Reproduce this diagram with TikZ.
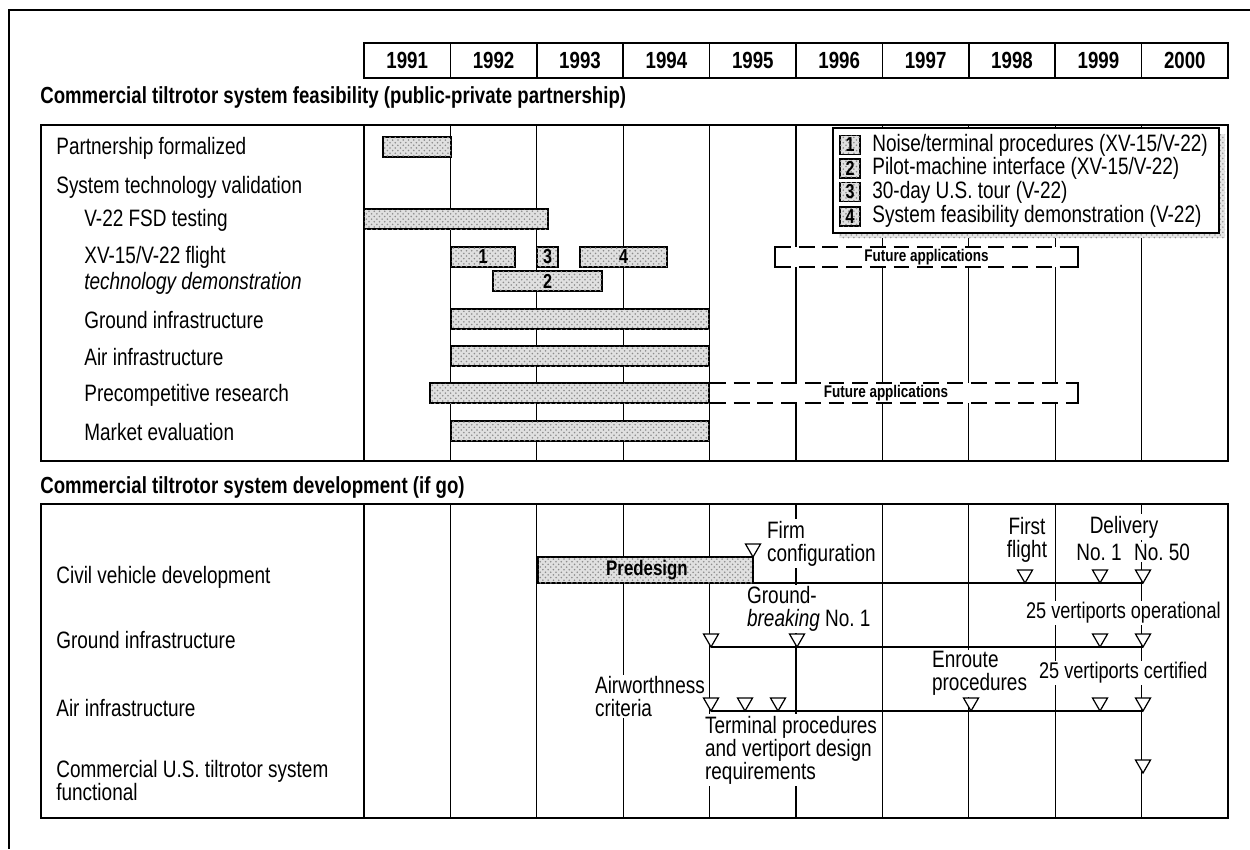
\documentclass[tikz,border=0pt]{standalone}
\usepackage{fontspec}
\setmainfont{Liberation Sans}[FakeStretch=0.8]
\usetikzlibrary{patterns,positioning,calc}
\newcommand{\lbl}{\fontsize{13.5}{13.1}\selectfont}
\tikzset{
  lab/.style={anchor=west,inner sep=0pt,font=\lbl},
  note/.style={anchor=west,align=left,inner sep=1pt,fill=white,font=\lbl},
  yr/.style={inner sep=0pt,font=\bfseries\fontsize{13.3}{14}\selectfont},
  ttl/.style={anchor=west,inner sep=0pt,font=\bfseries\fontsize{13.25}{14}\selectfont},
  num/.style={inner sep=0pt,font=\bfseries\fontsize{11.5}{12}\selectfont},
  fa/.style={inner sep=0pt,font=\bfseries\fontsize{9.6}{11}\selectfont},
  bar/.style={draw,line width=1pt,fill=black!12,
    postaction={pattern=crosshatch dots,pattern color=black!45}},
  fut/.style={dash pattern=on 9pt off 4.5pt,line width=0.9pt},
  grid/.style={line width=0.7pt},
  pane/.style={line width=1pt},
  mline/.style={line width=1.5pt},
  ms/.pic={\draw[line width=0.7pt,fill=white] (0,0) -- (-7.5,-13) -- (7.5,-13) -- cycle;},
}
\begin{document}
\begin{tikzpicture}[x=0.02cm,y=-0.02cm]
  \useasboundingbox (0,0) rectangle (1250,849);
  % open frame
  \draw[pane] (1250,10) -- (9,10) -- (9,849);
  % year header
  \foreach \yr [count=\i from 0] in {1991,...,2000} {
    \draw[pane] ({364+86.4*\i},43) rectangle ++(86.4,35);
    \node[yr] (y\yr) at ({407.2+86.4*\i},60.5) {\yr};
  }
  \node[ttl] (t1) at (40,97) {Commercial tiltrotor system feasibility (public-private partnership)};
  \node[ttl] (t2) at (40,488) {Commercial tiltrotor system development (if go)};

  % ---- feasibility panel
  \draw[pane] (41,125) rectangle (1228,461);
  \draw[pane] (364,125) -- (364,461);
  \foreach \i in {1,...,9} \draw[grid] ({364+86.4*\i},125) -- ++(0,336);
  \node[lab] (r1) at (56,148) {Partnership formalized};
  \node[lab] (r2) at (56,187) {System technology validation};
  \node[lab] (r3) at (84,220) {V-22 FSD testing};
  \node[lab] (r4) at (84,257) {XV-15/V-22 flight};
  \node[lab] (r5) at (84,283) {\itshape technology demonstration};
  \node[lab] (r6) at (84,320) {Ground infrastructure};
  \node[lab] (r7) at (84,357) {Air infrastructure};
  \node[lab] (r8) at (84,395) {Precompetitive research};
  \node[lab] (r9) at (84,432) {Market evaluation};
  \draw[bar] (383,137) rectangle (451,157);
  \draw[bar] (364,209) rectangle (548,229);
  \draw[bar] (451,247) rectangle (515,267); \node[num] (n1) at (483,257) {1};
  \draw[bar] (537,247) rectangle (558,267); \node[num] (n3) at (547.5,257) {3};
  \draw[bar] (580,247) rectangle (667,267); \node[num] (n4) at (623.5,257) {4};
  \draw[bar] (493,271) rectangle (602,291); \node[num] (n2) at (547.5,281) {2};
  \draw[bar] (451,309) rectangle (709,329);
  \draw[bar] (451,346) rectangle (709,366);
  \draw[bar] (430,383) rectangle (709,403);
  \draw[bar] (451,421) rectangle (709,441);
  % future applications
  \fill[white] (775,247) rectangle (1078,267);
  \draw[fut] (775,247) -- (1078,247) (775,267) -- (1078,267);
  \draw[grid] (780,247) -- (775,247) -- (775,267) -- (780,267);
  \draw[grid] (1073,247) -- (1078,247) -- (1078,267) -- (1073,267);
  \node[fa] (fa1) at (926.5,257) {Future applications};
  \fill[white] (710,383) rectangle (1078,403);
  \draw[fut] (710,383) -- (1078,383) (710,403) -- (1078,403);
  \draw[grid] (1073,383) -- (1078,383) -- (1078,403) -- (1073,403);
  \node[fa] (fa2) at (886,393) {Future applications};
  % legend
  \fill[black!10,postaction={pattern=crosshatch dots,pattern color=black!40}] (839,134) rectangle (1225,238);
  \draw[pane,fill=white] (833,128) rectangle (1219,233);
  \draw[bar] (840,135.5) rectangle (860,154.5); \node[num] (k1) at (850,145) {1};
  \draw[bar] (840,159) rectangle (860,178); \node[num] (k2) at (850,168.5) {2};
  \draw[bar] (840,182.5) rectangle (860,201.5); \node[num] (k3) at (850,192) {3};
  \draw[bar] (840,207) rectangle (860,226); \node[num] (k4) at (850,216.5) {4};
  \node[lab] (l1) at (872,145) {Noise/terminal procedures (XV-15/V-22)};
  \node[lab] (l2) at (872,168.5) {Pilot-machine interface (XV-15/V-22)};
  \node[lab] (l3) at (872,192) {30-day U.S. tour (V-22)};
  \node[lab] (l4) at (872,216.5) {System feasibility demonstration (V-22)};

  % ---- development panel
  \draw[pane] (41,504) rectangle (1228,818);
  \draw[pane] (364,504) -- (364,818);
  \foreach \i in {1,...,9} \draw[grid] ({364+86.4*\i},504) -- ++(0,314);
  \node[lab] (d1) at (56,577) {Civil vehicle development};
  \node[lab] (d2) at (56,640) {Ground infrastructure};
  \node[lab] (d3) at (56,708) {Air infrastructure};
  \node[lab,align=left] (d4) at (56,780.5) {Commercial U.S. tiltrotor system\\functional};
  \draw[bar] (538,557) rectangle (753,583);
  \node[num,font=\bfseries\fontsize{12}{12}\selectfont] (pd) at (647,570) {Predesign};
  \draw[mline] (753,583) -- (1143,583);
  \draw[mline] (711,647) -- (1143,647);
  \draw[mline] (711,711) -- (1143,711);
  % milestone labels
  \node[note] (fc) at (765,543.5) {Firm\\configuration};
  \node[note,anchor=center,align=center] (ff) at (1027,540) {First\\flight};
  \node[note,anchor=center] (dv) at (1124,527) {Delivery};
  \node[note,anchor=center] (dv1) at (1099,552) {No.~1};
  \node[note,anchor=center] (dv2) at (1162,552) {No.~50};
  \node[note] (gb) at (745,609) {Ground-\\\textit{breaking} No.~1};
  \node[note,font=\fontsize{12.9}{13.1}\selectfont] (vo) at (1024,613) {25 vertiports operational};
  \node[note] (aw) at (593,696.5) {Airworthness\\criteria};
  \node[note] (er) at (930,673.5) {Enroute\\procedures};
  \node[note,font=\fontsize{12.9}{13.1}\selectfont] (vc) at (1037,673) {25 vertiports certified};
  \node[note] (tp) at (703,750) {Terminal procedures\\and vertiport design\\requirements};
  % milestones
  \foreach \p in {(753,557),(1025,583),(1100,583),(1143,583),
                  (711,647),(797,647),(1100,647),(1143,647),
                  (711,711),(745,711),(778,711),(971,711),(1100,711),(1143,711),
                  (1143,773)}
    \pic at \p {ms};
\end{tikzpicture}
\end{document}
